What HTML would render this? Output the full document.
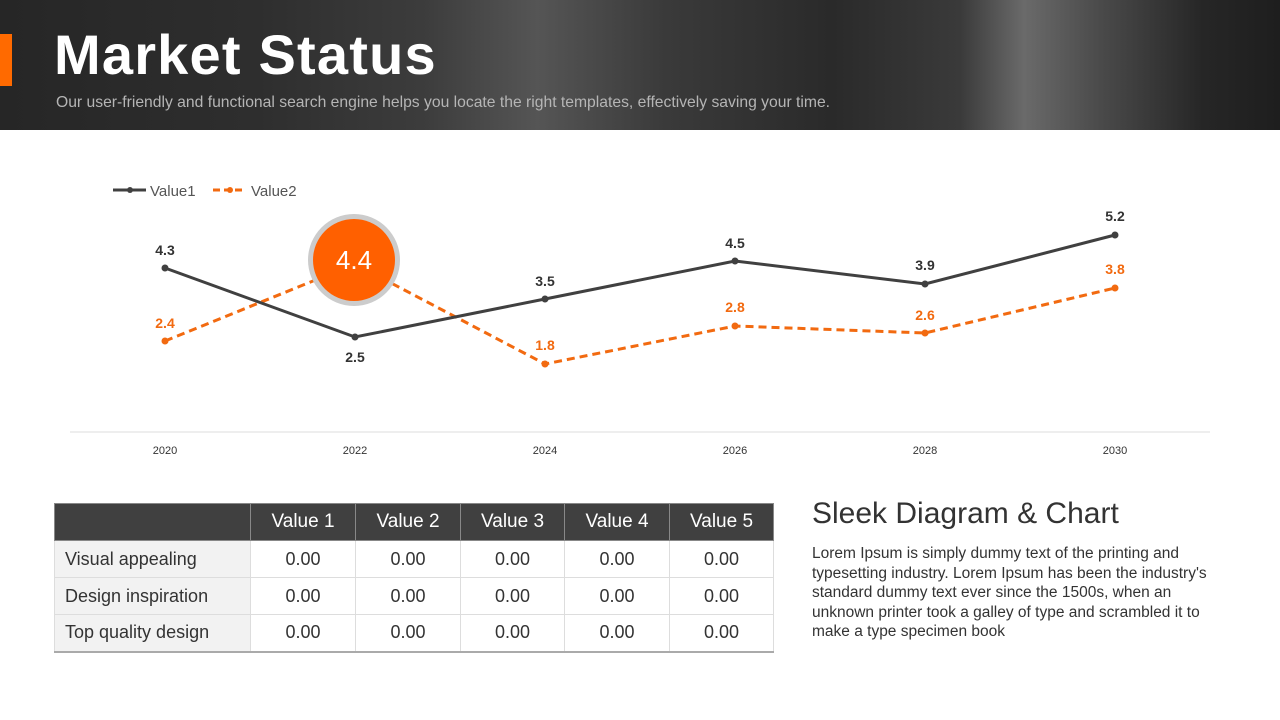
<!DOCTYPE html>
<html><head><meta charset="utf-8"><style>
*{margin:0;padding:0;box-sizing:border-box}
body{width:1280px;height:720px;background:#fff;font-family:"Liberation Sans","DejaVu Sans",sans-serif;position:relative;overflow:hidden}
.hdr{position:absolute;left:0;top:0;width:1280px;height:130px;background:linear-gradient(90deg,#262626 0%,#2e2e2e 20%,#3c3c3c 33%,#555 42%,#3a3a3a 52%,#2a2a2a 65%,#3a3a3a 75%,#6a6a6a 80%,#4a4a4a 86%,#262626 94%,#1e1e1e 100%)}
.bar{position:absolute;left:0;top:34px;width:12px;height:52px;background:#ff6a00}
h1{position:absolute;left:54px;top:22px;color:#fff;font-size:56px;font-weight:bold;letter-spacing:1.2px}
.sub{position:absolute;left:56px;top:94px;color:#b5b5b5;font-size:15.7px}
table{position:absolute;left:54px;top:503px;border-collapse:collapse;font-size:18px;color:#333}
td,th{height:37px;text-align:center;border:1px solid #ddd;font-weight:normal}
th{background:#404040;color:#fff;font-size:19px;border-color:#888}
td.l{background:#f2f2f2;text-align:left;padding-left:10px;width:196px}
tr:last-child td{border-bottom:2px solid #aaa}
.st{position:absolute;left:812px;top:497px;font-size:30px;color:#333}
.p{position:absolute;left:812px;top:544px;width:400px;font-size:15.5px;line-height:19.5px;color:#333}
</style></head><body>
<div class="hdr"></div><div class="bar"></div>
<h1>Market Status</h1>
<div class="sub">Our user-friendly and functional search engine helps you locate the right templates, effectively saving your time.</div>
<svg width="1280" height="720" style="position:absolute;left:0;top:0" font-family="Liberation Sans,sans-serif">
<line x1="70" y1="432" x2="1210" y2="432" stroke="#ddd"/>
<g font-size="11" fill="#333" text-anchor="middle">
<text x="165" y="454">2020</text><text x="355" y="454">2022</text><text x="545" y="454">2024</text><text x="735" y="454">2026</text><text x="925" y="454">2028</text><text x="1115" y="454">2030</text></g>
<line x1="113" y1="190" x2="146" y2="190" stroke="#404040" stroke-width="3"/><circle cx="130" cy="190" r="3" fill="#404040"/>
<text x="150" y="196" font-size="15" fill="#555">Value1</text>
<line x1="213" y1="190" x2="246" y2="190" stroke="#f26a10" stroke-width="3" stroke-dasharray="7,4"/><circle cx="230" cy="190" r="3" fill="#f26a10"/>
<text x="251" y="196" font-size="15" fill="#555">Value2</text>
<polyline points="165,341 355,264 545,364 735,326 925,333 1115,288" fill="none" stroke="#f26a10" stroke-width="3" stroke-dasharray="8,5"/>
<g fill="#f26a10"><circle cx="165" cy="341" r="3.5"/><circle cx="545" cy="364" r="3.5"/><circle cx="735" cy="326" r="3.5"/><circle cx="925" cy="333" r="3.5"/><circle cx="1115" cy="288" r="3.5"/></g>
<polyline points="165,268 355,337 545,299 735,261 925,284 1115,235" fill="none" stroke="#404040" stroke-width="3"/>
<g fill="#404040"><circle cx="165" cy="268" r="3.5"/><circle cx="355" cy="337" r="3.5"/><circle cx="545" cy="299" r="3.5"/><circle cx="735" cy="261" r="3.5"/><circle cx="925" cy="284" r="3.5"/><circle cx="1115" cy="235" r="3.5"/></g>
<g font-size="14" font-weight="bold" text-anchor="middle" fill="#333">
<text x="165" y="255">4.3</text><text x="355" y="362">2.5</text><text x="545" y="286">3.5</text><text x="735" y="248">4.5</text><text x="925" y="270">3.9</text><text x="1115" y="221">5.2</text></g>
<g font-size="14" font-weight="bold" text-anchor="middle" fill="#f26a10">
<text x="165" y="328">2.4</text><text x="545" y="350">1.8</text><text x="735" y="312">2.8</text><text x="925" y="320">2.6</text><text x="1115" y="274">3.8</text></g>
<circle cx="354" cy="260" r="46" fill="#ccc"/><circle cx="354" cy="260" r="41" fill="#ff6000"/>
<text x="354" y="269" font-size="26" fill="#fff" text-anchor="middle">4.4</text>
</svg>
<table>
<tr><th style="width:196px"></th><th style="width:105px">Value 1</th><th style="width:105px">Value 2</th><th style="width:104px">Value 3</th><th style="width:105px">Value 4</th><th style="width:104px">Value 5</th></tr>
<tr><td class="l">Visual appealing</td><td>0.00</td><td>0.00</td><td>0.00</td><td>0.00</td><td>0.00</td></tr>
<tr><td class="l">Design inspiration</td><td>0.00</td><td>0.00</td><td>0.00</td><td>0.00</td><td>0.00</td></tr>
<tr><td class="l">Top quality design</td><td>0.00</td><td>0.00</td><td>0.00</td><td>0.00</td><td>0.00</td></tr>
</table>
<div class="st">Sleek Diagram &amp; Chart</div>
<div class="p">Lorem Ipsum is simply dummy text of the printing and typesetting industry. Lorem Ipsum has been the industry's standard dummy text ever since the 1500s, when an unknown printer took a galley of type and scrambled it to make a type specimen book</div>
</body></html>
